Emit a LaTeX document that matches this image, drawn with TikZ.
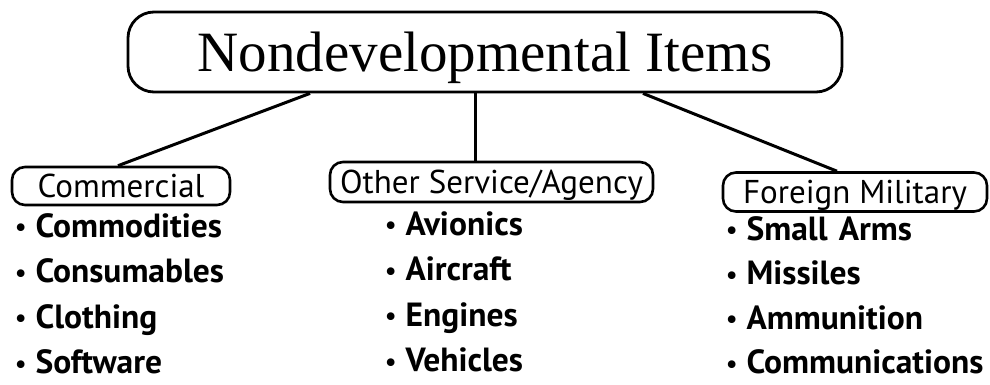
\documentclass[tikz,border=0pt]{standalone}
\usepackage{fontspec}
\setmainfont{Liberation Serif}
\newfontfamily\optfont{PT Sans}
\usetikzlibrary{positioning}

\tikzset{
  headbox/.style={draw, line width=2.8pt, rounded corners=26pt, inner ysep=0pt,
    font=\fontsize{57}{60}\selectfont, text height=39pt, text depth=0pt},
  catbox/.style={draw, line width=2.6pt, rounded corners=13pt, inner xsep=3pt,
    inner ysep=0pt, font=\optfont\fontsize{33}{35}\selectfont,
    text height=23pt, text depth=0pt},
  entry/.style={inner sep=0pt, text width=262pt, align=left,
    font=\optfont\bfseries\fontsize{33.5}{35}\selectfont,
    text height=23pt, text depth=0pt},
  link/.style={line width=3pt}
}
% small bullet, then the item text
\newcommand{\dotitem}[1]{\raisebox{1.5pt}{\scalebox{0.75}{\textbullet}}\hspace{9pt}#1}

\begin{document}
\begin{tikzpicture}[x=1pt, y=-1pt, node distance=45.5pt]
  \useasboundingbox (0,0) rectangle (990,385);

  \node[headbox, minimum width=714pt, minimum height=80pt] (nditems)
    at (485,52) {Nondevelopmental Items};

  % the three sources
  \node[catbox, minimum width=218pt, minimum height=38pt] (commercial) at (121,186) {Commercial};
  \node[catbox, minimum width=323pt, minimum height=40pt] (othersvc) at (491.5,182) {Other Service/Agency};
  \node[catbox, minimum width=264pt, minimum height=39pt] (foreign) at (855,192) {Foreign Military};

  \draw[link] ([xshift=-175pt]nditems.south) -- ([xshift=-3pt]commercial.north);
  \draw[link] ([xshift=-10pt]nditems.south) -- ([xshift=-16.5pt]othersvc.north);
  \draw[link] ([xshift=158pt]nditems.south) -- ([xshift=-18pt]foreign.north);

  % item lists
  \node[entry, anchor=base west] (commodities) at (15,237) {\dotitem{Commodities}};
  \node[entry] (consumables) [below of=commodities] {\dotitem{Consumables}};
  \node[entry] (clothing) [below of=consumables] {\dotitem{Clothing}};
  \node[entry] (software) [below of=clothing] {\dotitem{Software}};

  \node[entry, anchor=base west] (avionics) at (385,235) {\dotitem{Avionics}};
  \node[entry] (aircraft) [below of=avionics] {\dotitem{Aircraft}};
  \node[entry] (engines) [below of=aircraft] {\dotitem{Engines}};
  \node[entry] (vehicles) [below of=engines] {\dotitem{Vehicles}};

  \begin{scope}[node distance=44.5pt]
  \node[entry, anchor=base west] (smallarms) at (726,240) {\dotitem{Small Arms}};
  \node[entry] (missiles) [below of=smallarms] {\dotitem{Missiles}};
  \node[entry] (ammunition) [below of=missiles] {\dotitem{Ammunition}};
  \node[entry] (comms) [below of=ammunition] {\dotitem{Communications}};
  \end{scope}
\end{tikzpicture}
\end{document}
